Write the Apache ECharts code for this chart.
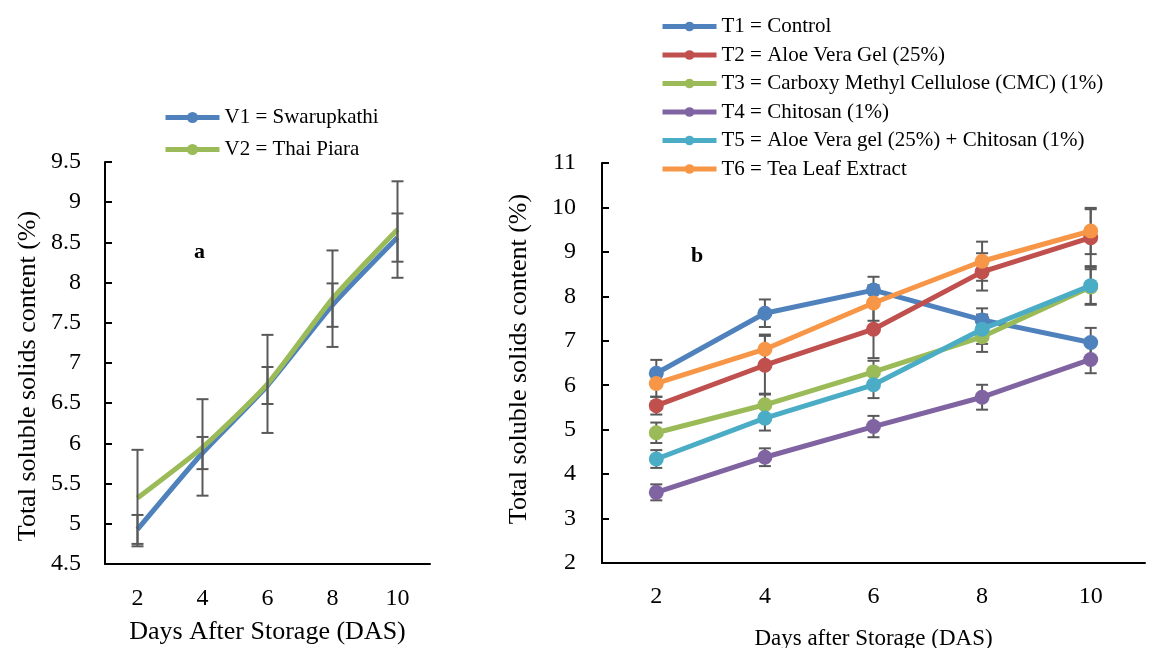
<!DOCTYPE html>
<html>
<head>
<meta charset="utf-8">
<script src="https://cdn.jsdelivr.net/npm/echarts@6/dist/echarts.min.js"></script>
<style>
  html, body { margin: 0; padding: 0; background: #fff; }
  #chart { width: 1156px; height: 648px; }
</style>
</head>
<body>
<div id="chart"></div>
<script>
// x categories (days after storage)
const days = ['2', '4', '6', '8', '10'];

// panel a - varieties
const v1 = [4.93, 5.88, 6.72, 7.72, 8.56];
const v2 = [5.32, 5.95, 6.74, 7.80, 8.66];
const v1Err = [0.18, 0.20, 0.23, 0.27, 0.30];
const v2Err = [0.60, 0.60, 0.61, 0.60, 0.60];

// panel b - treatments
const t1 = [6.27, 7.62, 8.14, 7.47, 6.96];
const t2 = [5.54, 6.45, 7.26, 8.55, 9.32];
const t3 = [4.93, 5.56, 6.30, 7.09, 8.21];
const t4 = [3.59, 4.38, 5.07, 5.73, 6.58];
const t5 = [4.34, 5.26, 6.01, 7.26, 8.24];
const t6 = [6.04, 6.81, 7.85, 8.79, 9.47];
const t1Err = [0.30, 0.31, 0.30, 0.26, 0.33];
const t2Err = [0.20, 0.66, 0.65, 0.42, 0.64];
const t3Err = [0.23, 0.25, 0.25, 0.34, 0.40];
const t4Err = [0.18, 0.20, 0.24, 0.28, 0.31];
const t5Err = [0.20, 0.28, 0.30, 0.33, 0.41];
const t6Err = [0.30, 0.33, 0.40, 0.44, 0.52];

const yTicksA = { min: 4.5, max: 9.5, interval: 0.5 };
const yTicksB = { min: 2, max: 11, interval: 1 };

const FONT = 'Liberation Serif';
const COLORS = ['#4F81BD', '#C0504D', '#9BBB59', '#8064A2', '#4BACC6', '#F79646'];

function errData(vals, errs) {
  return vals.map((v, i) => [i, v - errs[i], v + errs[i]]);
}

function renderErr(params, api) {
  const x = api.value(0);
  const lo = api.coord([x, api.value(1)]);
  const hi = api.coord([x, api.value(2)]);
  const w = 6;
  const st = { stroke: '#595959', lineWidth: 2 };
  return {
    type: 'group',
    children: [
      { type: 'line', shape: { x1: hi[0], y1: hi[1], x2: lo[0], y2: lo[1] }, style: st },
      { type: 'line', shape: { x1: hi[0] - w, y1: hi[1], x2: hi[0] + w, y2: hi[1] }, style: st },
      { type: 'line', shape: { x1: lo[0] - w, y1: lo[1], x2: lo[0] + w, y2: lo[1] }, style: st }
    ]
  };
}

function xAxisCfg(idx, name, nameSize, nameGap, labelMargin) {
  return {
    type: 'category', gridIndex: idx, data: days, boundaryGap: true,
    name: name, nameLocation: 'middle', nameGap: nameGap,
    nameTextStyle: { fontFamily: FONT, fontSize: nameSize, color: '#000' },
    axisLine: { lineStyle: { color: '#000', width: 2 } },
    axisTick: { inside: true, length: 7, lineStyle: { color: '#000', width: 2 } },
    axisLabel: { fontFamily: FONT, fontSize: 24, color: '#000', margin: labelMargin },
    splitLine: { show: false }
  };
}

function yAxisCfg(idx, t, nameGap, labelMargin, namePad) {
  return {
    type: 'value', gridIndex: idx, min: t.min, max: t.max, interval: t.interval,
    name: 'Total soluble solids content (%)', nameLocation: 'middle', nameGap: nameGap,
    nameTextStyle: { fontFamily: FONT, fontSize: 26, color: '#000', padding: namePad },
    axisLine: { show: true, lineStyle: { color: '#000', width: 2 } },
    axisTick: { show: true, inside: true, length: 7, lineStyle: { color: '#000', width: 2 } },
    axisLabel: { fontFamily: FONT, fontSize: 24, color: '#000', margin: labelMargin },
    splitLine: { show: false }
  };
}

const namesB = [
  'T1 = Control',
  'T2 = Aloe Vera Gel (25%)',
  'T3 = Carboxy Methyl Cellulose (CMC) (1%)',
  'T4 = Chitosan (1%)',
  'T5 = Aloe Vera gel (25%) + Chitosan (1%)',
  'T6 = Tea Leaf Extract'
];
const valsB = [t1, t2, t3, t4, t5, t6];
const errsB = [t1Err, t2Err, t3Err, t4Err, t5Err, t6Err];

const series = [];
// panel a lines
series.push({
  name: 'V1 = Swarupkathi', type: 'line', xAxisIndex: 0, yAxisIndex: 0,
  data: v1, smooth: 0.2, symbol: 'none', color: COLORS[0],
  lineStyle: { width: 5 }, z: 2
});
series.push({
  name: 'V2 = Thai Piara', type: 'line', xAxisIndex: 0, yAxisIndex: 0,
  data: v2, smooth: 0.2, symbol: 'none', color: COLORS[2],
  lineStyle: { width: 5 }, z: 3
});
series.push({
  type: 'custom', xAxisIndex: 0, yAxisIndex: 0, renderItem: renderErr,
  data: errData(v1, v1Err).concat(errData(v2, v2Err)),
  encode: { x: 0, y: [1, 2] }, z: 5, silent: true
});
// panel b error bars under the markers
let errB = [];
valsB.forEach((v, i) => { errB = errB.concat(errData(v, errsB[i])); });
series.push({
  type: 'custom', xAxisIndex: 1, yAxisIndex: 1, renderItem: renderErr,
  data: errB, encode: { x: 0, y: [1, 2] }, z: 1, silent: true
});
valsB.forEach((v, i) => {
  series.push({
    name: namesB[i], type: 'line', xAxisIndex: 1, yAxisIndex: 1,
    data: v, symbol: 'circle', symbolSize: 15, color: COLORS[i],
    lineStyle: { width: 5 }, z: 2 + i
  });
});

const myChart = echarts.init(document.getElementById('chart'));
myChart.setOption({
  backgroundColor: '#fff',
  animation: false,
  grid: [
    { left: 105, top: 162, width: 325, height: 402, outerBoundsMode: 'none' },
    { left: 602, top: 163, width: 543, height: 400, outerBoundsMode: 'none' }
  ],
  xAxis: [
    xAxisCfg(0, 'Days After Storage (DAS)', 26, 55, 23),
    xAxisCfg(1, 'Days after Storage (DAS)', 23, 64, 22)
  ],
  yAxis: [
    yAxisCfg(0, yTicksA, 64, 24, [0, 26, 0, 0]),
    yAxisCfg(1, yTicksB, 70, 26, [0, 0, 0, 8])
  ],
  legend: [
    {
      data: ['V1 = Swarupkathi', 'V2 = Thai Piara'],
      orient: 'vertical', left: 158, top: 102, itemWidth: 54, itemHeight: 14, itemGap: 11,
      lineStyle: { width: 5 },
      textStyle: { fontFamily: FONT, fontSize: 21, color: '#000' }
    },
    {
      data: namesB,
      orient: 'vertical', left: 655, top: 11, itemWidth: 54, itemHeight: 12, itemGap: 7.5,
      lineStyle: { width: 5 },
      textStyle: { fontFamily: FONT, fontSize: 21, color: '#000' }
    }
  ],
  graphic: [
    { type: 'text', left: 194, top: 241, style: { text: 'a', font: 'bold 22px "Liberation Serif"', fill: '#000' } },
    { type: 'text', left: 691, top: 245, style: { text: 'b', font: 'bold 22px "Liberation Serif"', fill: '#000' } }
  ],
  series: series
});
</script>
</body>
</html>
